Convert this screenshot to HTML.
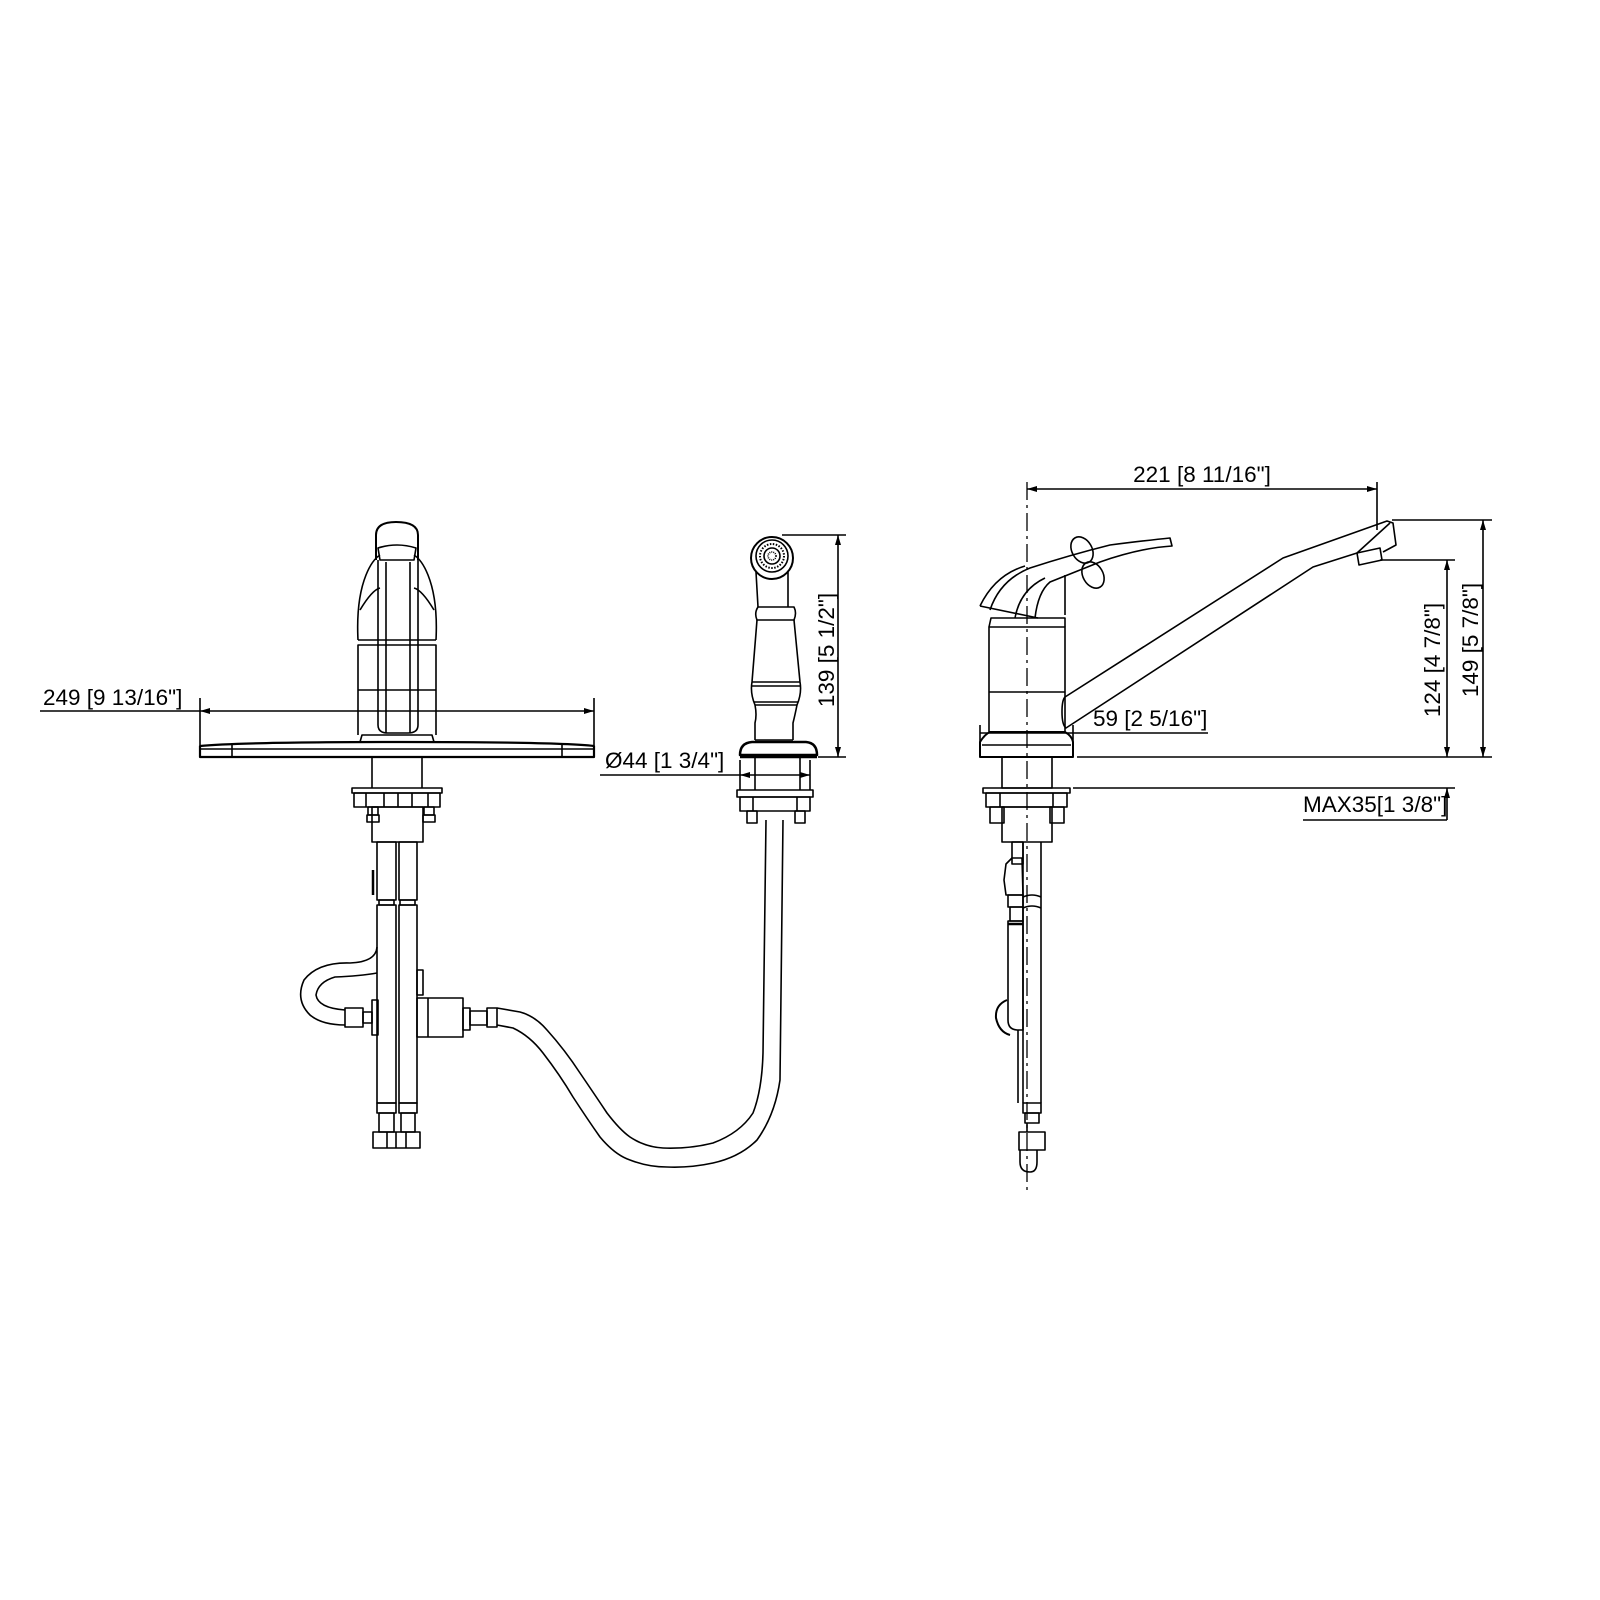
<!DOCTYPE html>
<html><head><meta charset="utf-8"><style>
html,body{margin:0;padding:0;background:#fff}
svg{display:block}
text{font-family:"Liberation Sans",Arial,sans-serif;font-size:22.5px;fill:#000}
</style></head><body>
<svg width="1600" height="1600" viewBox="0 0 1600 1600" xmlns="http://www.w3.org/2000/svg">
<defs>
<marker id="a" viewBox="0 0 10 6" refX="10" refY="3" markerWidth="14" markerHeight="6" markerUnits="userSpaceOnUse" orient="auto-start-reverse"><path d="M0,0 L10,3 L0,6 Z" fill="#000"/></marker>
</defs>
<g fill="none" stroke="#000" stroke-width="1.6" stroke-linejoin="round">

<!-- ===== LEFT FRONT VIEW ===== -->
<line x1="40" y1="711" x2="200" y2="711"/>
<line x1="200" y1="711" x2="594" y2="711" marker-start="url(#a)" marker-end="url(#a)"/>
<line x1="200" y1="698" x2="200" y2="745"/>
<line x1="594" y1="698" x2="594" y2="745"/>
<path d="M200,746 L200,757 L594,757 L594,746 Q560,742 400,742 Q240,742 200,746 Z" stroke-width="2.2"/>
<line x1="200" y1="749" x2="594" y2="749"/>
<line x1="232" y1="744" x2="232" y2="757"/>
<line x1="562" y1="744" x2="562" y2="757"/>
<path d="M360,742 L362,735 L432,735 L434,742"/>
<path d="M358,735 L358,645 L436,645 L436,735"/>
<line x1="358" y1="690" x2="436" y2="690"/>
<path d="M358,640 Q356,600 366,575 Q372,560 380,555"/>
<path d="M436,640 Q438,600 428,575 Q422,560 414,555"/>
<line x1="358" y1="640" x2="436" y2="640"/>
<path d="M360,610 Q372,590 380,588"/>
<path d="M434,610 Q422,590 414,588"/>
<path d="M376,560 L376,535 Q376,522 396,522 Q418,522 418,535 L418,560" stroke-width="2"/>
<path d="M378,548 Q397,542 416,548 L414,560 L380,560 Z"/>
<path d="M378,560 L378,725 Q378,733 388,733 L408,733 Q418,733 418,725 L418,560"/>
<line x1="386" y1="562" x2="386" y2="733"/>
<line x1="410" y1="562" x2="410" y2="733"/>
<line x1="372" y1="757" x2="372" y2="788"/>
<line x1="422" y1="757" x2="422" y2="788"/>
<rect x="352" y="788" width="90" height="5"/>
<rect x="354" y="793" width="86" height="14"/>
<line x1="366" y1="793" x2="366" y2="807"/><line x1="384" y1="793" x2="384" y2="807"/>
<line x1="398" y1="793" x2="398" y2="807"/><line x1="412" y1="793" x2="412" y2="807"/>
<line x1="428" y1="793" x2="428" y2="807"/>
<rect x="368" y="807" width="10" height="8"/><rect x="367" y="815" width="12" height="7"/>
<rect x="424" y="807" width="10" height="8"/><rect x="423" y="815" width="12" height="7"/>
<rect x="372" y="807" width="51" height="35"/>
<rect x="377" y="842" width="19" height="58"/>
<rect x="399" y="842" width="18" height="58"/>
<rect x="379" y="900" width="15" height="5"/><rect x="400" y="900" width="15" height="5"/>
<rect x="377" y="905" width="19" height="198"/>
<rect x="399" y="905" width="18" height="198"/>
<rect x="377" y="1103" width="19" height="10"/><rect x="399" y="1103" width="18" height="10"/>
<rect x="379" y="1113" width="15" height="19"/><rect x="401" y="1113" width="14" height="19"/>
<rect x="373" y="1132" width="47" height="16"/>
<line x1="387" y1="1132" x2="387" y2="1148"/><line x1="396" y1="1132" x2="396" y2="1148"/><line x1="406" y1="1132" x2="406" y2="1148"/>
<path d="M373,870 L373,895" stroke-width="2.5"/>
<rect x="417" y="970" width="6" height="25"/>
<rect x="417" y="998" width="46" height="39"/>
<line x1="428" y1="998" x2="428" y2="1037"/>
<rect x="372" y="1000" width="6" height="35"/>
<rect x="363" y="1012" width="9" height="11"/>
<rect x="345" y="1008" width="18" height="19"/>
<rect x="463" y="1008" width="7" height="22"/>
<rect x="470" y="1011" width="17" height="14"/>
<rect x="487" y="1008" width="10" height="19"/>
<path d="M377,947 Q376,962 350,963 Q318,962 304,980 Q295,1000 310,1015 Q322,1025 345,1025"/>
<path d="M377,973 Q360,976 335,977 Q318,982 316,995 Q318,1008 345,1010"/>
<path d="M497,1008 L520,1012 Q535,1016 547,1030 Q565,1050 580,1073 Q595,1095 607,1113 Q620,1130 630,1137 Q645,1147 663,1148 Q690,1149 713,1143 Q740,1133 753,1113 Q762,1090 763,1053 L766,820"/>
<path d="M497,1025 L513,1028 Q530,1036 543,1053 Q560,1075 573,1097 Q588,1120 600,1137 Q615,1155 630,1160 Q648,1167 667,1167 Q690,1168 713,1163 Q740,1157 757,1140 Q775,1115 780,1080 L783,820"/>

<!-- ===== SPRAYER ===== -->
<circle cx="772" cy="558" r="21" stroke-width="2"/>
<circle cx="772" cy="556" r="16"/>
<circle cx="772" cy="556" r="12" stroke-dasharray="1.5 1.5" stroke-width="2"/>
<circle cx="772" cy="556" r="8"/>
<circle cx="772" cy="556" r="4" stroke-dasharray="1 1"/>
<path d="M756,572 L758,607 M788,572 L788,607"/>
<path d="M758,607 Q754,613 757,620 L794,620 Q797,613 794,607 Z"/>
<path d="M757,620 L752,682 Q750,693 755,705 Q757,715 755,723 L755,740 M794,620 L800,682 Q802,693 797,705 Q795,715 793,723 L793,740"/>
<line x1="752" y1="682" x2="800" y2="682"/><line x1="751" y1="686" x2="801" y2="686"/>
<line x1="754" y1="702" x2="798" y2="702"/><line x1="755" y1="705" x2="797" y2="705"/>
<line x1="755" y1="740" x2="793" y2="740"/>
<path d="M740,755 Q740,743 752,742 L806,742 Q817,743 817,755 Z" stroke-width="2.5"/>
<line x1="740" y1="757" x2="817" y2="757" stroke-width="2.5"/>
<line x1="755" y1="757" x2="755" y2="790"/><line x1="800" y1="757" x2="800" y2="790"/>
<rect x="737" y="790" width="76" height="7"/>
<rect x="740" y="797" width="70" height="14"/>
<line x1="753" y1="797" x2="753" y2="811"/><line x1="797" y1="797" x2="797" y2="811"/>
<rect x="747" y="811" width="10" height="12"/><rect x="795" y="811" width="10" height="12"/>
<line x1="782" y1="535" x2="846" y2="535"/>
<line x1="818" y1="757" x2="846" y2="757"/>
<line x1="838" y1="535" x2="838" y2="757" marker-start="url(#a)" marker-end="url(#a)"/>
<line x1="600" y1="775" x2="740" y2="775"/>
<line x1="740" y1="775" x2="810" y2="775" marker-start="url(#a)" marker-end="url(#a)"/>
<line x1="740" y1="760" x2="740" y2="790"/>
<line x1="810" y1="760" x2="810" y2="790"/>

<!-- ===== RIGHT SIDE VIEW ===== -->
<line x1="1027" y1="482" x2="1027" y2="1195" stroke-dasharray="18 5 3 5" stroke-width="1.3"/>
<line x1="1027" y1="489" x2="1377" y2="489" marker-start="url(#a)" marker-end="url(#a)"/>
<line x1="1377" y1="482" x2="1377" y2="530"/>
<rect x="989" y="627" width="76" height="105"/>
<line x1="989" y1="692" x2="1065" y2="692"/>
<path d="M989,627 L991,618 L1065,618 L1065,627"/>
<path d="M980,757 L980,742 Q985,734 990,732 L1065,732 Q1072,736 1073,742 L1073,757 Z" stroke-width="2"/>
<line x1="982" y1="745" x2="1071" y2="745"/>
<path d="M990,610 Q1000,580 1030,568 Q1070,555 1110,545 Q1150,540 1170,538 L1172,546 Q1140,548 1100,562 Q1070,574 1050,582 Q1038,592 1035,618"/>
<path d="M980,606 L1038,618"/>
<path d="M980,606 Q995,575 1025,566"/>
<path d="M1015,618 Q1020,590 1045,578"/>
<ellipse cx="1082" cy="550" rx="10" ry="14" transform="rotate(-30 1082 550)"/>
<ellipse cx="1093" cy="575" rx="10" ry="14" transform="rotate(-30 1093 575)"/>
<path d="M1065,575 L1065,615"/>
<path d="M1065,697 Q1062,700 1062,712 Q1062,725 1066,728 L1313,567 L1357,553"/>
<path d="M1065,697 L1283,558 L1387,521 L1393,523 L1396,545 L1383,552"/>
<path d="M1357,553 L1380,548 L1382,560 L1359,565 Z"/>
<path d="M1357,553 L1390,523"/>
<rect x="1002" y="757" width="50" height="31"/>
<rect x="983" y="788" width="87" height="5"/>
<rect x="986" y="793" width="81" height="14"/>
<line x1="1000" y1="793" x2="1000" y2="807"/><line x1="1053" y1="793" x2="1053" y2="807"/>
<rect x="990" y="807" width="14" height="16"/><rect x="1050" y="807" width="14" height="16"/>
<rect x="1002" y="807" width="50" height="35"/>
<rect x="1012" y="842" width="11" height="22"/>
<path d="M1006,864 L1012,858 L1022,858 L1023,895 L1006,895 L1004,880 Z"/>
<rect x="1008" y="895" width="15" height="12"/>
<rect x="1010" y="907" width="13" height="14"/>
<path d="M1008,921 L1008,1020 Q1008,1030 1018,1030 L1023,1030 L1023,921 Z"/>
<line x1="1008" y1="924" x2="1023" y2="924" stroke-width="2.5"/>
<path d="M1007,1000 Q995,1005 996,1018 Q999,1032 1010,1035" stroke-width="2"/>
<line x1="1018" y1="1030" x2="1018" y2="1103"/>
<line x1="1023" y1="842" x2="1023" y2="1103"/>
<line x1="1041" y1="842" x2="1041" y2="1103"/>
<path d="M1023,897 Q1032,893 1041,897 M1023,908 Q1032,904 1041,908"/>
<rect x="1023" y="1103" width="18" height="10"/>
<rect x="1025" y="1113" width="14" height="10"/>
<rect x="1019" y="1132" width="26" height="18"/>
<path d="M1020,1150 L1020,1162 Q1020,1172 1030,1172 Q1037,1172 1037,1162 L1037,1150"/>
<line x1="1027" y1="1123" x2="1027" y2="1132"/>
<line x1="980" y1="733" x2="1208" y2="733"/>
<line x1="980" y1="725" x2="980" y2="742"/>
<line x1="1073" y1="725" x2="1073" y2="742"/>
<line x1="1077" y1="757" x2="1492" y2="757"/>
<line x1="1073" y1="788" x2="1455" y2="788"/>
<line x1="1380" y1="560" x2="1455" y2="560"/>
<line x1="1392" y1="520" x2="1492" y2="520"/>
<line x1="1447" y1="560" x2="1447" y2="757" marker-start="url(#a)" marker-end="url(#a)"/>
<line x1="1483" y1="520" x2="1483" y2="757" marker-start="url(#a)" marker-end="url(#a)"/>
<line x1="1447" y1="820" x2="1447" y2="788" marker-end="url(#a)"/>
<line x1="1303" y1="820" x2="1447" y2="820"/>
</g>

<text x="43" y="705">249 [9 13/16"]</text>
<text x="605" y="768">Ø44 [1 3/4"]</text>
<text transform="translate(834,650) rotate(-90)" text-anchor="middle">139 [5 1/2"]</text>
<text x="1202" y="482" text-anchor="middle">221 [8 11/16"]</text>
<text x="1093" y="726">59 [2 5/16"]</text>
<text transform="translate(1440,660) rotate(-90)" text-anchor="middle">124 [4 7/8"]</text>
<text transform="translate(1478,640) rotate(-90)" text-anchor="middle">149 [5 7/8"]</text>
<text x="1303" y="812">MAX35[1 3/8"]</text>
</svg>
</body></html>
